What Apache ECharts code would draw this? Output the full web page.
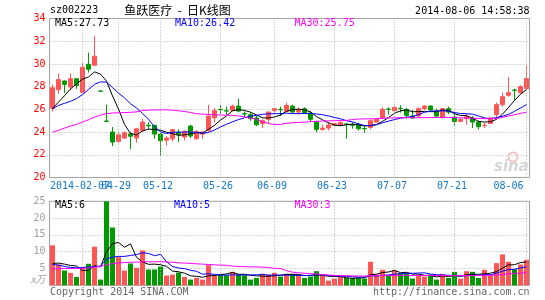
<!DOCTYPE html>
<html>
<head>
<meta charset="utf-8">
<script src="https://cdn.jsdelivr.net/npm/echarts@6/dist/echarts.min.js"></script>
<style>html,body{margin:0;padding:0;background:#fff}#c{width:545px;height:300px}</style>
</head>
<body>
<div id="c"></div>
<script>
const dates = ['2014-01-24','2014-01-27','2014-01-28','2014-01-29','2014-01-30','2014-02-07','2014-02-10','2014-02-11','2014-02-12','2014-02-13',
'2014-02-14','2014-04-29','2014-04-30','2014-05-05','2014-05-06','2014-05-07','2014-05-08','2014-05-09','2014-05-12','2014-05-13',
'2014-05-14','2014-05-15','2014-05-16','2014-05-19','2014-05-20','2014-05-21','2014-05-22','2014-05-23','2014-05-26','2014-05-27',
'2014-05-28','2014-05-29','2014-05-30','2014-06-03','2014-06-04','2014-06-05','2014-06-06','2014-06-09','2014-06-10','2014-06-11',
'2014-06-12','2014-06-13','2014-06-16','2014-06-17','2014-06-18','2014-06-19','2014-06-20','2014-06-23','2014-06-24','2014-06-25',
'2014-06-26','2014-06-27','2014-06-30','2014-07-01','2014-07-02','2014-07-03','2014-07-04','2014-07-07','2014-07-08','2014-07-09',
'2014-07-10','2014-07-11','2014-07-14','2014-07-15','2014-07-16','2014-07-17','2014-07-18','2014-07-21','2014-07-22','2014-07-23',
'2014-07-24','2014-07-25','2014-07-28','2014-07-29','2014-07-30','2014-07-31','2014-08-01','2014-08-04','2014-08-05','2014-08-06'];

const openP = [26.1,27.74,28.5,27.97,28.7,27.5,29.97,29.88,27.62,24.97,
24.0,23.18,23.47,23.84,23.47,24.15,24.6,24.59,23.82,23.29,
23.41,24.0,23.56,24.53,23.41,23.82,24.15,25.26,26.0,25.88,
25.91,26.29,25.62,25.53,25.24,24.76,25.12,25.88,26.0,25.82,
26.29,25.76,26.06,25.68,24.88,24.24,24.35,24.59,24.62,24.71,
24.62,24.65,24.32,24.41,24.88,25.24,26.03,25.88,26.09,26.0,
25.41,25.41,26.06,26.29,25.82,25.29,26.06,25.32,24.94,25.18,
25.24,24.88,24.56,24.76,25.53,26.41,27.24,27.7,27.47,27.82];
const closeP = [27.9,28.62,28.2,28.7,28.1,29.7,29.53,30.68,27.6,24.95,
23.12,23.76,23.94,23.63,24.29,24.88,24.55,23.82,23.24,23.47,
24.21,23.8,24.06,23.65,24.06,24.0,25.41,25.88,25.97,25.85,
26.29,25.85,25.59,25.18,24.65,25.0,25.76,26.06,25.97,26.35,
25.76,25.97,25.71,25.12,24.24,24.35,24.62,24.74,24.85,24.68,
24.59,24.29,24.29,25.0,25.12,26.0,26.0,26.18,26.06,25.47,
25.24,26.06,26.29,25.94,25.41,26.06,25.76,24.94,25.12,25.35,
24.88,24.47,24.59,25.24,26.41,27.12,27.47,27.68,28.0,28.71];
const lowP = [25.8,27.38,27.45,27.68,27.8,27.4,29.24,29.85,27.58,24.85,
22.76,23.06,23.41,22.5,23.06,24.0,24.24,23.41,21.94,22.82,
23.18,23.12,23.26,23.47,23.35,23.41,24.0,24.88,25.59,25.53,
25.82,25.76,25.29,25.0,24.53,24.35,24.76,25.7,25.41,25.76,
25.7,25.53,25.59,24.94,24.0,24.12,24.15,24.53,24.53,23.41,
24.3,24.15,23.94,24.24,24.82,25.12,25.53,25.82,25.71,25.18,
25.18,25.29,25.94,25.76,25.29,25.18,25.59,24.59,24.88,24.65,
24.35,24.24,24.35,24.71,25.24,26.24,27.12,26.79,27.41,27.76];
const highP = [28.2,29.15,28.55,29.15,28.75,30.1,31.0,32.47,27.65,26.4,
24.44,24.0,24.06,24.0,24.35,25.18,24.88,24.65,23.9,23.65,
24.29,24.24,24.15,24.65,24.15,24.06,26.41,26.12,26.35,26.24,
26.41,26.94,25.82,25.71,25.41,25.12,25.82,26.12,26.24,26.59,
26.41,26.18,26.18,25.82,25.0,24.65,24.88,24.82,24.94,24.8,
24.85,24.82,24.53,25.12,25.24,26.18,26.18,26.24,26.35,26.12,
25.94,26.18,26.35,26.35,26.06,26.12,26.24,25.76,25.29,25.59,
25.41,25.0,24.82,25.32,26.59,27.47,28.85,27.82,28.12,29.88];

const ma5 = [26.06,26.65,27.2,27.8,28.25,28.66,28.85,29.3,29.1,28.49,
27.18,26.02,24.67,23.88,23.75,24.1,24.26,24.23,24.16,23.99,
23.86,23.71,23.76,23.84,23.96,23.91,24.24,24.6,25.06,25.42,
25.88,25.97,25.91,25.75,25.51,25.25,25.24,25.33,25.49,25.83,
25.98,26.02,25.95,25.78,25.36,25.08,24.81,24.61,24.56,24.65,
24.7,24.63,24.54,24.57,24.66,24.94,25.28,25.66,25.87,25.94,
25.79,25.8,25.82,25.8,25.79,25.95,25.89,25.62,25.46,25.45,
25.21,24.95,24.88,24.91,25.12,25.57,26.17,26.78,27.34,27.73];
const ma10 = [26.06,26.35,26.53,26.71,26.94,27.3,27.75,28.2,28.42,28.4,
27.92,27.43,27.01,26.5,26.12,25.64,25.14,24.45,24.02,23.87,
23.98,23.98,24.0,24.0,23.97,23.89,23.97,24.18,24.45,24.69,
24.9,25.1,25.26,25.41,25.47,25.57,25.6,25.62,25.62,25.67,
25.62,25.63,25.64,25.64,25.59,25.53,25.42,25.28,25.17,25.0,
24.89,24.72,24.58,24.57,24.65,24.82,24.96,25.1,25.22,25.3,
25.37,25.54,25.74,25.84,25.87,25.87,25.85,25.72,25.63,25.62,
25.58,25.42,25.25,25.18,25.28,25.39,25.56,25.83,26.12,26.42];
const ma30 = [24.0,24.15,24.35,24.53,24.68,24.88,25.09,25.32,25.5,25.62,
25.68,25.7,25.72,25.74,25.78,25.9,25.94,25.95,25.95,25.96,
25.92,25.87,25.82,25.72,25.62,25.58,25.55,25.53,25.5,25.49,
25.47,25.42,25.33,25.22,25.12,24.9,24.75,24.66,24.68,24.78,
24.82,24.85,24.88,24.92,24.95,24.97,24.99,25.0,25.02,25.03,
25.1,25.15,25.16,25.17,25.18,25.22,25.24,25.25,25.26,25.27,
25.26,25.26,25.27,25.28,25.29,25.29,25.29,25.28,25.26,25.24,
25.22,25.2,25.18,25.18,25.2,25.3,25.42,25.53,25.64,25.75];

const volume = [11.9,6.2,4.4,3.7,2.5,5.2,6.4,11.5,1.7,25,
17.2,8.4,4.4,6.5,5.2,10.4,4.7,4.7,5.6,2.9,
3.2,3.8,2.5,1.7,2.2,1.7,6.0,3.0,3.2,3.0,
4.0,3.2,3.0,1.7,2.2,3.4,3.2,3.7,2.6,3.4,
3.4,3.0,2.2,2.6,4.2,3.0,1.4,2.0,2.5,2.2,
2.2,2.2,2.0,7.0,3.2,4.6,3.0,4.4,3.6,3.7,
2.0,3.0,2.6,3.2,1.7,3.4,2.2,4.0,2.0,4.2,
4.0,2.2,4.6,3.0,6.6,9.2,7.0,4.8,6.2,7.6];
const volMa5 = [6.5,6.6,6.3,5.9,5.74,4.4,4.44,5.86,5.46,9.96,
12.36,12.76,11.34,12.3,8.34,6.98,6.24,6.3,6.12,5.66,
4.22,4.04,3.6,2.82,2.68,2.38,2.82,2.92,3.22,3.38,
3.84,3.28,3.28,2.98,2.82,2.7,2.7,2.84,3.02,3.26,
3.26,3.22,2.92,2.92,3.08,3.0,2.68,2.64,2.62,2.22,
2.06,2.22,2.22,3.12,3.32,3.8,3.96,4.44,3.76,3.86,
3.34,3.34,2.98,2.9,2.5,2.78,2.62,2.9,2.66,3.16,
3.28,3.28,3.4,3.6,4.08,5.12,6.08,6.12,6.76,6.96];
const volMa10 = [6.2,6.0,5.6,5.3,5.2,5.3,5.4,5.6,5.65,7.85,
8.38,8.6,8.6,8.88,9.15,9.67,9.5,8.82,9.21,7.0,
5.6,5.14,4.95,4.47,4.17,3.3,3.43,3.26,3.02,3.03,
3.11,3.05,3.1,3.1,3.1,3.27,2.99,3.06,3.0,3.04,
2.98,2.96,2.88,2.97,3.17,3.13,2.95,2.78,2.77,2.65,
2.53,2.45,2.43,2.87,2.77,2.93,3.09,3.33,3.44,3.59,
3.57,3.65,3.71,3.33,3.18,3.06,2.98,2.94,2.78,2.83,
3.03,2.95,3.15,3.13,3.62,4.2,4.68,4.76,5.18,5.52];
const volMa30 = [4.9,4.95,5.0,5.0,5.0,5.05,5.15,5.4,5.6,6.1,
6.45,6.65,6.75,6.85,6.9,7.0,7.0,7.0,7.0,6.95,
6.85,6.7,6.6,6.5,6.4,6.3,6.2,6.1,6.0,5.96,
5.7,5.6,5.55,5.48,5.47,5.41,5.31,5.05,5.0,4.36,
3.9,3.72,3.6,3.45,3.4,3.18,3.05,2.96,2.87,2.84,
2.8,2.76,2.73,2.88,2.9,2.98,2.92,2.95,2.95,2.96,
2.92,2.9,2.9,2.93,2.92,2.92,2.9,2.9,2.88,2.9,
2.92,2.9,2.96,2.98,3.06,3.25,3.42,3.52,3.62,3.75];

const tickIndex = [5, 11, 18, 28, 37, 47, 57, 67, 79];
const tickLabels = ['2014-02-07','04-29','05-12','05-26','06-09','06-23','07-07','07-21','08-06'];

const UP = '#ff5555', DOWN = '#009900';
const MONO = 'DejaVu Sans Mono';
const GRIDC = '#b0b0b0';

const chart = echarts.init(document.getElementById('c'), null, {renderer: 'canvas'});
const isTick = (i) => tickIndex.indexOf(i) >= 0;
const hGridLine = {show: true, lineStyle: {color: GRIDC, type: [1, 2], width: 1}};

const lineS = (name, data, color, xi) => ({
  name, type: 'line', data, xAxisIndex: xi, yAxisIndex: xi, showSymbol: false, symbol: 'none',
  lineStyle: {color, width: 1}, silent: true, z: 5
});

const txt = (text, x, y, fill, align, font) => ({
  type: 'text', x, y, silent: true, z: 100,
  style: {text, fill, font: font || ('10px "' + MONO + '"'), textAlign: align || 'left', textVerticalAlign: 'middle'}
});

// vertical dotted grid lines at the labelled dates (category names)
const vLines = () => ({
  silent: true, symbol: ['none', 'none'], label: {show: false}, animation: false,
  lineStyle: {color: GRIDC, type: [1, 2], width: 1},
  emphasis: {disabled: true},
  data: tickIndex.map((i) => ({xAxis: dates[i]}))
});

const xAxisBase = (gi, showLabel) => ({
  type: 'category', gridIndex: gi, data: dates, boundaryGap: true,
  axisLine: {show: false},
  axisTick: {show: false},
  axisLabel: showLabel ? {show: true, interval: (i) => isTick(i) && i !== tickIndex[0], margin: 4, hideOverlap: false,
    fontFamily: MONO, fontSize: 10, color: '#1478c8',
    formatter: (v, i) => {
      const k = tickIndex.indexOf(i);
      if (k < 0) return '';
      return (k === tickIndex.length - 1 ? '{e|' : '{n|') + tickLabels[k] + '}';
    },
    rich: {
      n: {padding: [0, 5, 0, 0], fontFamily: MONO, fontSize: 10, color: '#1478c8'},
      e: {padding: [0, 36, 0, 0], fontFamily: MONO, fontSize: 10, color: '#1478c8'}
    }} : {show: false},
  splitLine: {show: false}
});

const option = {
  animation: false,
  backgroundColor: '#fff',
  grid: [
    {left: 49.5, top: 18.5, width: 480, height: 159, show: true, borderColor: '#a0a0a0', borderWidth: 1, backgroundColor: 'transparent'},
    {left: 49.5, top: 201.3, width: 480, height: 84, show: true, borderColor: '#a0a0a0', borderWidth: 1, backgroundColor: 'transparent'}
  ],
  xAxis: [xAxisBase(0, true), xAxisBase(1, false)],
  yAxis: [
    {type: 'value', gridIndex: 0, min: 20, max: 34, interval: 2, position: 'left',
     axisLine: {show: false}, axisTick: {show: false},
     axisLabel: {color: '#ff0000', fontFamily: MONO, fontSize: 10, margin: 4},
     splitLine: hGridLine},
    {type: 'value', gridIndex: 1, min: 0, max: 25, interval: 5, position: 'left',
     axisLine: {show: false}, axisTick: {show: false},
     axisLabel: {color: '#a0a0a0', fontFamily: MONO, fontSize: 10, margin: 4,
       formatter: (v) => v === 0 ? '' : String(v)},
     splitLine: hGridLine}
  ],
  series: [
    {name: 'K', type: 'candlestick', xAxisIndex: 0, yAxisIndex: 0, barWidth: 5,
     data: dates.map((d, i) => [openP[i], closeP[i], lowP[i], highP[i]]),
     itemStyle: {color: UP, color0: DOWN, borderColor: UP, borderColor0: DOWN, borderWidth: 1}, z: 3,
     markLine: vLines()},
    lineS('MA5', ma5, '#000000', 0),
    lineS('MA10', ma10, '#0000ff', 0),
    lineS('MA30', ma30, '#ff00ff', 0),
    {name: 'VOL', type: 'bar', xAxisIndex: 1, yAxisIndex: 1, barWidth: 5,
     data: volume.map((v, i) => ({value: v, itemStyle: {color: closeP[i] >= openP[i] ? UP : DOWN}})), z: 3,
     markLine: vLines()},
    lineS('VMA5', volMa5, '#000000', 1),
    lineS('VMA10', volMa10, '#0000ff', 1),
    lineS('VMA30', volMa30, '#ff00ff', 1)
  ]
};
chart.setOption(option);

function catX(gi, idx) {
  let v = chart.convertToPixel({xAxisIndex: gi}, dates[idx]);
  if (Array.isArray(v)) v = v[0];
  return Number(v);
}

function addGraphics() {
  const g = [
    txt('sz002223', 50, 10.5, '#000'),
    txt('鱼跃医疗  -  日K线图', 177.5, 10, '#000', 'center', '12px "Noto Sans CJK SC"'),
    txt('2014-08-06 14:58:38', 529.5, 11, '#000', 'right'),
    txt('MA5:' + ma5[ma5.length - 1].toFixed(2), 55, 23.5, '#000'),
    txt('MA10:' + ma10[ma10.length - 1].toFixed(2), 175, 23.5, '#0000ff'),
    txt('MA30:' + ma30[ma30.length - 1].toFixed(2), 294.5, 23.5, '#ff00ff'),
    txt('MA5:' + Math.floor(volMa5[volMa5.length - 1]), 55, 205.5, '#000'),
    txt('MA10:' + Math.floor(volMa10[volMa10.length - 1]), 174, 205.5, '#0000ff'),
    txt('MA30:' + Math.floor(volMa30[volMa30.length - 1]), 294.5, 205.5, '#ff00ff'),
    txt('x万', 45.5, 279, '#a0a0a0', 'right', 'italic 10px "Noto Sans CJK SC"'),
    txt('Copyright 2014 SINA.COM', 50, 292.5, '#666'),
    txt('http://finance.sina.com.cn', 529.5, 292.5, '#666', 'right'),
    {type: 'circle', shape: {cx: 513, cy: 157, r: 4.5}, style: {fill: 'none', stroke: '#f2c4c4', lineWidth: 2}, silent: true, z: 1},
    txt('sina', 494, 167, '#d6d6d6', 'left', 'italic bold 15px "DejaVu Sans"')
  ];
  const c5 = catX(0, tickIndex[0]);
  if (isFinite(c5)) g.push(txt(tickLabels[0], c5 - 2.5, 186, '#1478c8', 'center'));
  chart.setOption({graphic: {elements: g}});
}
addGraphics();
</script>
</body>
</html>
